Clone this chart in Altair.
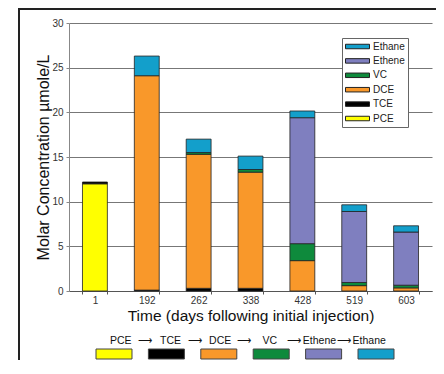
import altair as alt
import pandas as pd

days = ["1", "192", "262", "338", "428", "519", "603"]
species = ["PCE", "TCE", "DCE", "VC", "Ethene", "Ethane"]
colors = ["#FFFF00", "#000000", "#F9982A", "#0E8A3C", "#7F7FBF", "#139FCB"]

PCE = [12.0, 0, 0, 0, 0, 0, 0]
TCE = [0.2, 0.1, 0.3, 0.3, 0, 0, 0]
DCE = [0, 24.0, 15.0, 13.0, 3.4, 0.6, 0.35]
VC = [0, 0, 0.2, 0.3, 1.9, 0.35, 0.3]
Ethene = [0, 0, 0, 0, 14.1, 7.95, 5.95]
Ethane = [0, 2.2, 1.5, 1.5, 0.75, 0.75, 0.7]
series = [PCE, TCE, DCE, VC, Ethene, Ethane]

y_ticks = [0, 5, 10, 15, 20, 25, 30]
x_title = "Time (days following initial injection)"
y_title = "Molar Concentration µmole/L"

rows = []
for i, (sp, vals) in enumerate(zip(species, series)):
    for d, v in zip(days, vals):
        if v > 0:
            rows.append({"day": d, "species": sp, "idx": i, "value": v})
df = pd.DataFrame(rows)

FONT = "Liberation Sans"
color_scale = alt.Scale(domain=species[::-1], range=colors[::-1])

bars = alt.Chart(df).mark_bar(stroke="#222", strokeWidth=0.8).encode(
    x=alt.X("day:O", sort=days,
            scale=alt.Scale(paddingInner=0.52, paddingOuter=0.26),
            axis=alt.Axis(title=x_title, labelAngle=0, tickBand="extent",
                          domainColor="#555", tickColor="#555", tickSize=3,
                          labelPadding=1, labelFontSize=10, labelColor="#333",
                          labelFont=FONT, titleFont=FONT, titleFontSize=15.5,
                          titleFontWeight="normal", titleColor="#111",
                          titleY=24, titleBaseline="middle", grid=False)),
    y=alt.Y("value:Q", stack="zero", scale=alt.Scale(domain=[0, 30]),
            axis=alt.Axis(values=y_ticks, title=y_title, grid=True,
                          gridColor="#777", gridWidth=1,
                          domainColor="#888", tickColor="#888", tickSize=3,
                          labelPadding=3, labelFontSize=10, labelColor="#333",
                          labelFont=FONT, titleFont=FONT, titleFontSize=16,
                          titleFontWeight="normal", titleColor="#111",
                          titleX=-26, titleY=134, titleBaseline="middle")),
    color=alt.Color("species:N", scale=color_scale,
                    legend=alt.Legend(orient="none", legendX=273, legendY=15,
                                      title=None,
                                      symbolType="M-2.4,-0.45H2.4V0.45H-2.4Z",
                                      symbolSize=100, symbolStrokeColor="#222",
                                      symbolStrokeWidth=1, symbolOffset=7,
                                      labelFontSize=10, labelFont=FONT,
                                      labelColor="#222", labelOffset=10,
                                      rowPadding=3.4, padding=3,
                                      strokeColor="#666", fillColor="white")),
    order=alt.Order("idx:Q"),
)

scheme_df = pd.DataFrame({"species": species, "idx": list(range(len(species)))})
arrow_df = pd.DataFrame({"species": species[:-1], "arrow": ["⟶"] * 5})
sx = alt.Scale(domain=species, range=[27, 325], paddingInner=0.313, paddingOuter=0)

scheme_rect = alt.Chart(scheme_df).mark_rect(stroke="#444", strokeWidth=1).encode(
    x=alt.X("species:N", scale=sx, axis=None),
    y=alt.value(326), y2=alt.value(336),
    color=alt.Color("species:N", scale=color_scale, legend=None),
)
scheme_text = alt.Chart(scheme_df).mark_text(
    font=FONT, fontSize=10.5, baseline="middle", color="#111").encode(
    x=alt.X("species:N", scale=sx, axis=None),
    y=alt.value(318),
    text="species:N",
)
scheme_arrow = alt.Chart(arrow_df).mark_text(
    fontSize=9.5, baseline="middle", color="#111", dx=24).encode(
    x=alt.X("species:N", scale=sx, axis=None),
    y=alt.value(318),
    text="arrow:N",
)

one = pd.DataFrame({"a": [0]})
frame_left = alt.Chart(one).mark_rule(color="#222", strokeWidth=2).encode(
    x=alt.value(-50), y=alt.value(-14), y2=alt.value(345))
frame_top = alt.Chart(one).mark_rule(color="#222", strokeWidth=2).encode(
    x=alt.value(-51), x2=alt.value(380), y=alt.value(-14))

chart = alt.layer(bars, scheme_rect, scheme_text, scheme_arrow, frame_left, frame_top).resolve_scale(
    x="independent"
).properties(
    width=363, height=268,
    autosize=alt.AutoSizeParams(type="none"),
    padding={"left": 61, "top": 15, "right": 4, "bottom": 69},
    background="white",
).configure_view(stroke=None)

chart.save("out.html", embed_options={"renderer": "svg", "actions": False})
